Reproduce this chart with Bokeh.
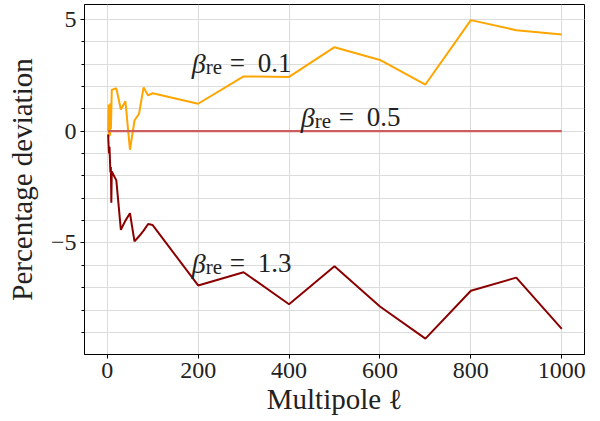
from bokeh.plotting import figure
from bokeh.models import Range1d, SingleIntervalTicker, ColumnDataSource
from bokeh.core.properties import value
from bokeh.embed import file_html
from bokeh.resources import INLINE

# ---- data ----
ell = [2, 3, 4, 5, 6, 7, 8, 9, 10, 20, 30, 40, 50, 60, 70, 80, 90, 100,
       200, 300, 400, 500, 600, 700, 800, 900, 1000]
dev_beta01 = [0.0, 1.2, -0.25, 1.1, -0.2, 1.25, 0.1, 0.9, 1.85, 1.92, 0.97, 1.34,
              -0.83, 0.48, 0.78, 1.96, 1.6, 1.7, 1.23, 2.45, 2.43, 3.76, 3.19,
              2.09, 4.97, 4.52, 4.33]
dev_beta05 = [0.0] * len(ell)
dev_beta13 = [-0.15, -0.6, -1.0, -0.7, -1.3, -1.85, -1.6, -3.2, -1.8, -2.2, -4.41,
              -4.0, -3.67, -4.93, -4.7, -4.45, -4.15, -4.2, -6.9, -6.31, -7.74,
              -6.04, -7.84, -9.28, -7.14, -6.55, -8.84]

label_values = ["0.1", "0.5", "1.3"]
label_ell = [186, 426, 186]
label_dev = [2.64, 0.22, -6.31]

FONT = "Liberation Serif"

p = figure(width=600, height=421, output_backend="svg", toolbar_location=None,
           x_range=Range1d(-50, 1050), y_range=Range1d(-9.99, 5.67),
           min_border_left=84, min_border_right=16, min_border_top=4,
           min_border_bottom=67)

p.background_fill_color = "white"
p.border_fill_color = "white"
p.outline_line_color = "black"
p.outline_line_width = 1

# axes
p.xaxis.ticker = SingleIntervalTicker(interval=200, num_minor_ticks=0)
p.yaxis.ticker = SingleIntervalTicker(interval=5, num_minor_ticks=5)
p.yaxis.major_label_overrides = {-5: "\u22125", 0: "0", 5: "5"}
for ax in (p.xaxis, p.yaxis):
    ax.axis_line_color = "black"
    ax.major_tick_line_color = "black"
    ax.minor_tick_line_color = "black"
    ax.major_tick_in = 0
    ax.major_tick_out = 4
    ax.minor_tick_in = 0
    ax.minor_tick_out = 3
    ax.major_label_text_font = FONT
    ax.major_label_text_font_size = "24px"
    ax.major_label_text_color = "#222222"
    ax.axis_label_text_font = FONT
    ax.axis_label_text_font_size = "29px"
    ax.axis_label_text_font_style = "normal"
    ax.axis_label_text_color = "#222222"

p.xaxis.axis_label = "Multipole \u2113"
p.yaxis.axis_label = "Percentage deviation"
p.xaxis.major_label_standoff = 4
p.xaxis.axis_label_standoff = 2
p.yaxis.major_label_standoff = 4
p.yaxis.axis_label_standoff = 10

# grid
p.xgrid.grid_line_color = "#dcdcdc"
p.xgrid.grid_line_width = 1
p.ygrid.grid_line_color = "#dcdcdc"
p.ygrid.grid_line_width = 1
p.ygrid.minor_grid_line_color = "#dcdcdc"
p.ygrid.minor_grid_line_width = 1

src = ColumnDataSource(dict(ell=ell, b01=dev_beta01, b05=dev_beta05, b13=dev_beta13))
p.line("ell", "b01", source=src, line_color="#FFA500", line_width=2)
p.line("ell", "b05", source=src, line_color="#CD5C5C", line_width=2.2)
p.line("ell", "b13", source=src, line_color="#8B0000", line_width=2)

lab = ColumnDataSource(dict(x=label_ell, y=label_dev, v=label_values,
                            beta=["\u03b2"] * 3, sub=["re"] * 3, eq=["="] * 3))
p.text("x", "y", text="beta", source=lab, text_font=value(FONT),
       text_font_style="italic", text_font_size="28px", text_color="#222222",
       text_baseline="alphabetic", y_offset=-9)
p.text("x", "y", text="sub", source=lab, text_font=value(FONT),
       text_font_size="21px", text_color="#222222", text_baseline="alphabetic",
       x_offset=14, y_offset=-5.5)
p.text("x", "y", text="eq", source=lab, text_font=value(FONT),
       text_font_size="27px", text_color="#222222", text_baseline="alphabetic",
       x_offset=38, y_offset=-9)
p.text("x", "y", text="v", source=lab, text_font=value(FONT),
       text_font_size="27px", text_color="#222222", text_baseline="alphabetic",
       x_offset=66, y_offset=-9)

open("out.html", "w").write(file_html(p, INLINE))
